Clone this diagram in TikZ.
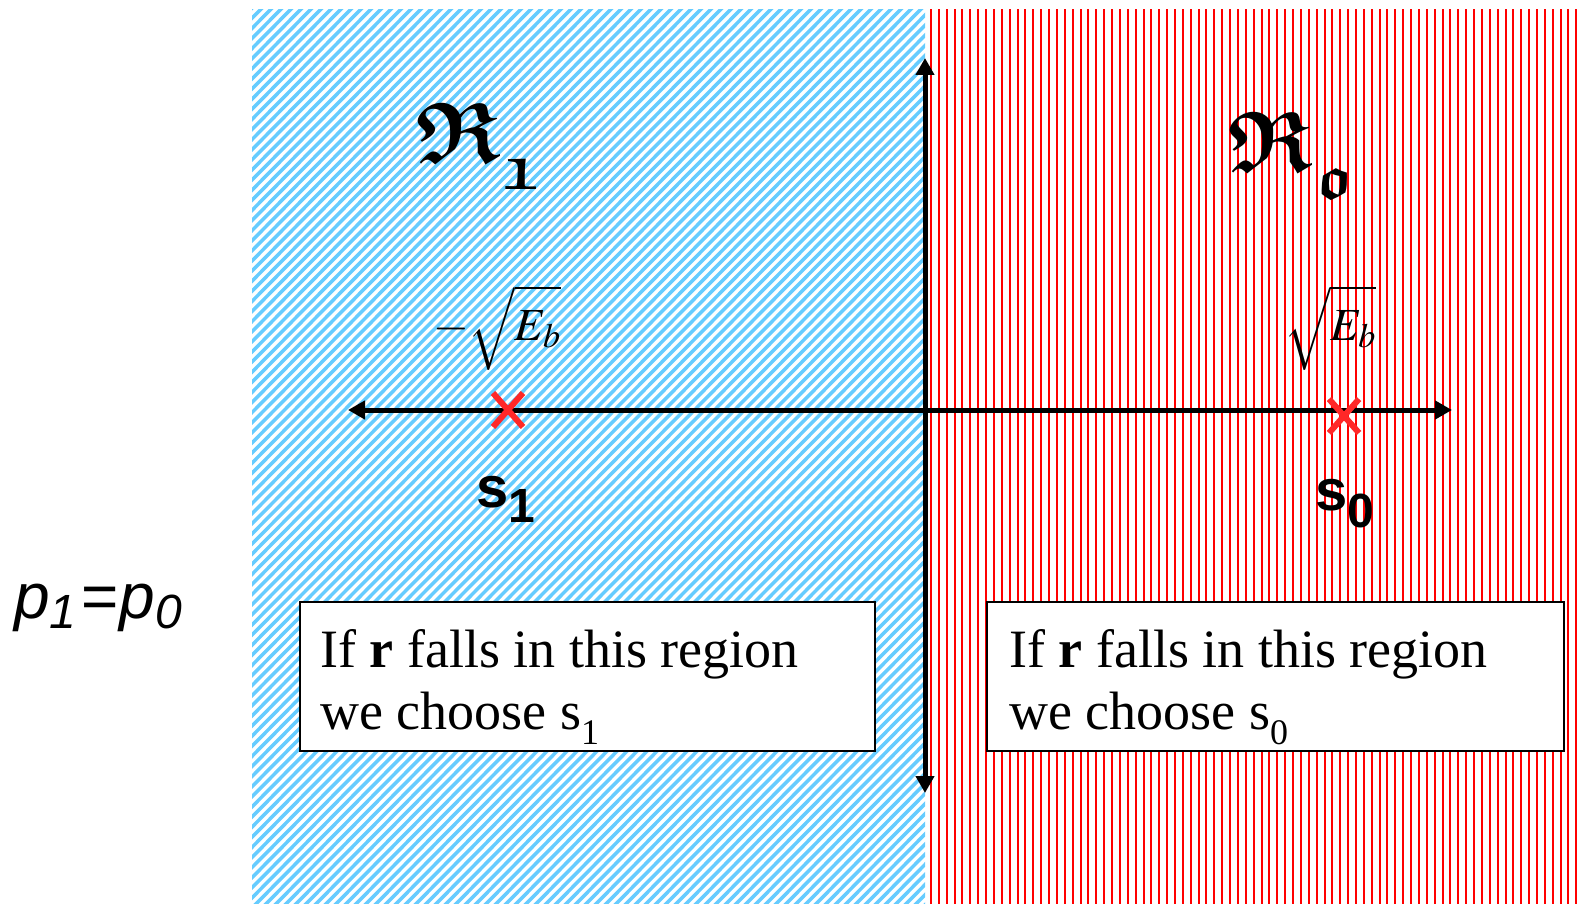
\documentclass[tikz,border=0pt]{standalone}
\usepackage{mathptmx}
\usepackage{amsmath}
\usepackage{amssymb}
\usepackage{fontspec}
\setmainfont{Liberation Serif}
\newfontfamily\arialfont{Liberation Sans}
\usetikzlibrary{arrows.meta,shapes.misc}
\definecolor{hatchblue}{RGB}{102,204,255}
\definecolor{hatchred}{RGB}{255,0,0}
\definecolor{xred}{RGB}{255,40,40}
\tikzset{
  axisline/.style={line width=5pt,{Triangle[length=17pt,width=18pt]}-{Triangle[length=17pt,width=18pt]}},
  bluehatch/.style={hatchblue,line width=3.5pt},
  redhatch/.style={hatchred,line width=2pt},
  xmark/.style={cross out,draw=xred,line width=6pt,minimum width=24pt,minimum height=28pt,inner sep=0pt},
  infobox/.style={draw=black,line width=2.5pt,fill=white,inner sep=0pt},
  boxline/.style={anchor=base west,inner sep=0pt,font=\fontsize{54}{54}\selectfont},
  frak/.style={anchor=base west,inner sep=0pt,font=\fontsize{86}{86}\selectfont},
  rootlabel/.style={anchor=base west,inner sep=0pt,font=\fontsize{46}{46}\selectfont},
  slabel/.style={anchor=base west,inner sep=0pt,font=\arialfont\bfseries\fontsize{58}{58}\selectfont},
  plabel/.style={anchor=base west,inner sep=0pt,font=\arialfont\itshape\fontsize{64}{64}\selectfont}
}
\newcommand{\rootstrut}{\rule[-0.45em]{0pt}{1.3em}}
\newcommand{\boxsub}[1]{\raisebox{-0.28em}{\fontsize{36}{36}\selectfont #1}}
\newcommand{\fraksub}[2]{\kern#1\raisebox{-27pt}{\fontsize{62}{62}\selectfont$\boldsymbol{\mathfrak{#2}}$}}
\begin{document}
\begin{tikzpicture}[x=1pt,y=-1pt]
\useasboundingbox (0,0) rectangle (1579,904);
% blue region (diagonal hatch)
\begin{scope}
  \clip (252,10) rectangle (925,904);
  \foreach \c in {260,270,...,1850}
    \draw[bluehatch] ({\c-10},0) -- ({\c-914},914);
\end{scope}
% red region (vertical hatch)
\begin{scope}
  \clip (925,10) rectangle (1579,904);
  \foreach \i in {-1,0,...,84}
    \draw[redhatch] ({931+7.87*\i},0) -- ({931+7.87*\i},914);
\end{scope}
% axes
\coordinate (vtop) at (925,58);
\coordinate (vbot) at (925,793);
\coordinate (hleft) at (348,410);
\coordinate (hright) at (1452,410);
\draw[axisline] (vbot) -- (vtop);
\draw[axisline] (hleft) -- (hright);
% signal points
\node[xmark] (x1) at (508,410) {};
\node[xmark] (x0) at (1344,416) {};
% labels
\node[frak] (R1) at (416,163) {$\boldsymbol{\mathfrak{R}}$\fraksub{2pt}{1}};
\node[frak] (R0) at (1228,172) {$\boldsymbol{\mathfrak{R}}$\fraksub{3pt}{o}};
\node[rootlabel] (e1) at (433,340) {$-\sqrt{\rootstrut E_b}$};
\node[rootlabel] (e0) at (1284,340) {$\sqrt{\rootstrut E_b}$};
\node[slabel] (s1) at (476,507) {s\raisebox{-15pt}{\fontsize{48}{48}\selectfont 1}};
\node[slabel] (s0) at (1315,510) {s\raisebox{-17pt}{\fontsize{48}{48}\selectfont 0}};
\node[plabel] (p) at (14,618) {p\raisebox{-10pt}{\fontsize{48}{48}\selectfont 1}\kern4pt=\kern2pt p\raisebox{-10pt}{\fontsize{48}{48}\selectfont 0}};
% decision boxes
\node[infobox,minimum width=575pt,minimum height=149pt] (box1) at (587.5,676.5) {};
\node[infobox,minimum width=577pt,minimum height=149pt] (box0) at (1275.5,676.5) {};
\node[boxline] (b1a) at (320,667) {If \textbf{r} falls in this region};
\node[boxline] (b1b) at (320,729) {we choose s\boxsub{1}};
\node[boxline] (b0a) at (1009,667) {If \textbf{r} falls in this region};
\node[boxline] (b0b) at (1009,729) {we choose s\boxsub{0}};
\end{tikzpicture}
\end{document}
